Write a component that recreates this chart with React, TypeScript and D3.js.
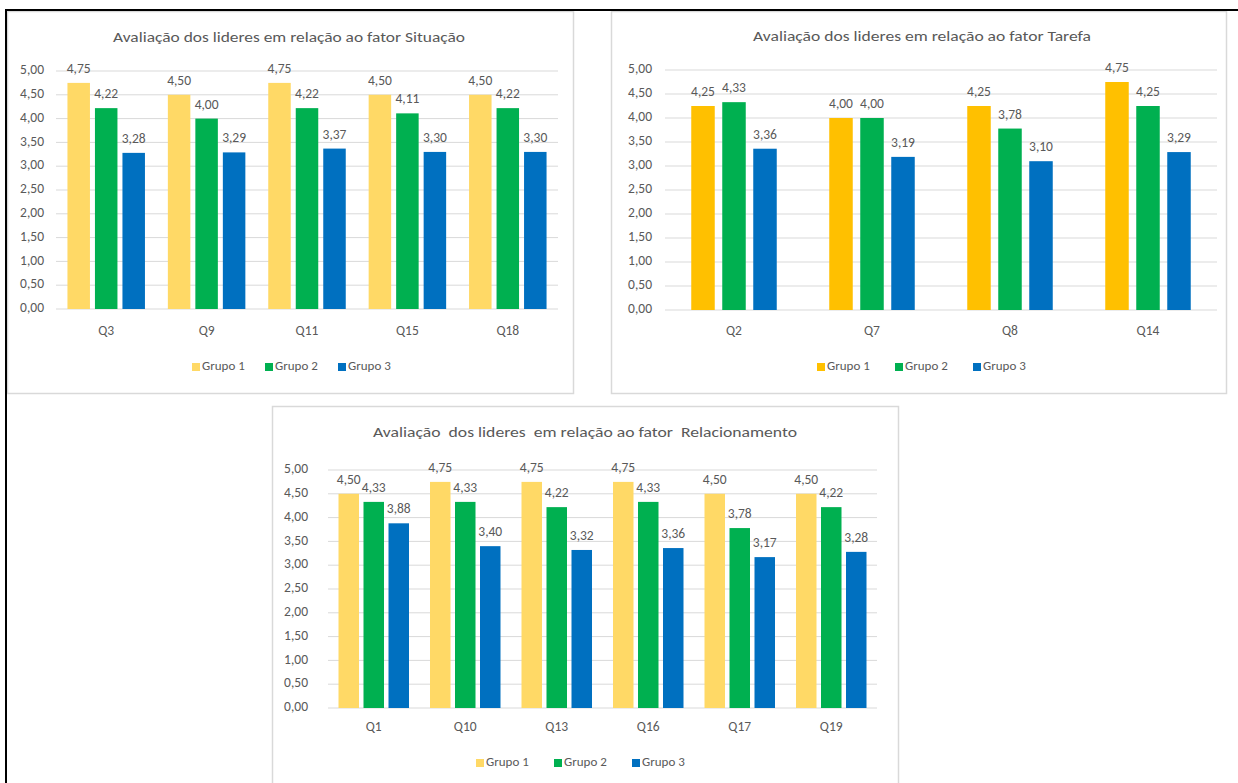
import React from "react";
import * as d3 from "d3";

const seriesNames = ["Grupo 1", "Grupo 2", "Grupo 3"];
const yTicks = [0, 0.5, 1, 1.5, 2, 2.5, 3, 3.5, 4, 4.5, 5];

// Chart 1 — Situação
const catSituacao = ["Q3", "Q9", "Q11", "Q15", "Q18"];
const situacaoG1 = [4.75, 4.5, 4.75, 4.5, 4.5];
const situacaoG2 = [4.22, 4.0, 4.22, 4.11, 4.22];
const situacaoG3 = [3.28, 3.29, 3.37, 3.3, 3.3];

// Chart 2 — Tarefa
const catTarefa = ["Q2", "Q7", "Q8", "Q14"];
const tarefaG1 = [4.25, 4.0, 4.25, 4.75];
const tarefaG2 = [4.33, 4.0, 3.78, 4.25];
const tarefaG3 = [3.36, 3.19, 3.1, 3.29];

// Chart 3 — Relacionamento
const catRelac = ["Q1", "Q10", "Q13", "Q16", "Q17", "Q19"];
const relacG1 = [4.5, 4.75, 4.75, 4.75, 4.5, 4.5];
const relacG2 = [4.33, 4.33, 4.22, 4.33, 3.78, 4.22];
const relacG3 = [3.88, 3.4, 3.32, 3.36, 3.17, 3.28];

const ptBR = d3.formatLocale({
  decimal: ",",
  thousands: ".",
  grouping: [3],
  currency: ["R$", ""],
});
const fmt = ptBR.format(".2f");

const FONT = "Carlito, Lato, 'Liberation Sans', sans-serif";
const TEXT = "#595959";
const GRID = "#D9D9D9";

type ChartProps = {
  box: { x: number; y: number; w: number; h: number };
  plot: { left: number; right: number; top: number; bottom: number };
  title: string;
  titleX: number;
  titleY: number;
  titleLen: number;
  categories: string[];
  values: number[][];
  colors: string[];
  barW: number;
  gap: number;
  tickX: number;
  xLabelY: number;
  legendX: number;
  legendStep: number;
  legendY: number;
};

function Chart(p: ChartProps) {
  const x = d3.scaleBand<string>().domain(p.categories).range([p.plot.left, p.plot.right]).padding(0);
  const y = d3.scaleLinear().domain([0, 5]).range([p.plot.bottom, p.plot.top]);
  const groupW = 3 * p.barW + 2 * p.gap;
  const sub = d3
    .scaleBand<string>()
    .domain(seriesNames)
    .range([0, groupW])
    .paddingInner(p.gap / (p.barW + p.gap))
    .paddingOuter(0);

  return (
    <g>
      <rect
        x={p.box.x + 0.5}
        y={p.box.y + 0.5}
        width={p.box.w}
        height={p.box.h}
        fill="#fff"
        stroke={GRID}
        strokeWidth={1.5}
      />
      <text
        x={p.titleX}
        y={p.titleY}
        textLength={p.titleLen}
        lengthAdjust="spacingAndGlyphs"
        fontFamily={FONT}
        fontSize={15}
        fill={TEXT}
        dominantBaseline="middle"
        style={{ whiteSpace: "pre" }}
      >
        {p.title}
      </text>
      {yTicks.map((t) => (
        <g key={t}>
          <line x1={p.plot.left} x2={p.plot.right} y1={y(t)} y2={y(t)} stroke={GRID} strokeWidth={1} />
          <text
            x={p.tickX}
            y={y(t)}
            textAnchor="end"
            dominantBaseline="middle"
            fontFamily={FONT}
            fontSize={13.5}
            fill={TEXT}
          >
            {fmt(t)}
          </text>
        </g>
      ))}
      {p.categories.map((c, ci) => {
        const cx = (x(c) as number) + x.bandwidth() / 2;
        const gx = cx - groupW / 2;
        return (
          <g key={c}>
            {seriesNames.map((s, si) => {
              const v = p.values[si][ci];
              const bx = gx + (sub(s) as number);
              return (
                <g key={s}>
                  <rect x={bx} y={y(v)} width={sub.bandwidth()} height={y(0) - y(v)} fill={p.colors[si]} />
                  <text
                    x={bx + sub.bandwidth() / 2}
                    y={y(v) - 10}
                    textAnchor="middle"
                    fontFamily={FONT}
                    fontSize={13.5}
                    fill={TEXT}
                  >
                    {fmt(v)}
                  </text>
                </g>
              );
            })}
            <text
              x={cx}
              y={p.xLabelY}
              textAnchor="middle"
              dominantBaseline="middle"
              fontFamily={FONT}
              fontSize={13.5}
              fill={TEXT}
            >
              {c}
            </text>
          </g>
        );
      })}
      {seriesNames.map((s, i) => {
        const lx = p.legendX + i * p.legendStep;
        return (
          <g key={s}>
            <rect x={lx} y={p.legendY - 4} width={8} height={8} fill={p.colors[i]} />
            <text
              x={lx + 10}
              y={p.legendY}
              dominantBaseline="middle"
              fontFamily={FONT}
              fontSize={13}
              fill={TEXT}
            >
              {s}
            </text>
          </g>
        );
      })}
    </g>
  );
}

export default function App() {
  const green = "#00B050";
  const blue = "#0070C0";
  return (
    <svg
      width={1238}
      height={783}
      style={{ position: "absolute", left: 0, top: 0, background: "#fff" }}
    >
      <rect x={0} y={0} width={1238} height={783} fill="#fff" />
      <Chart
        box={{ x: 7, y: 11, w: 566, h: 382 }}
        plot={{ left: 56, right: 558, top: 71, bottom: 309 }}
        title="Avaliação dos lideres em relação ao fator Situação"
        titleX={113}
        titleY={38}
        titleLen={352}
        categories={catSituacao}
        values={[situacaoG1, situacaoG2, situacaoG3]}
        colors={["#FFD966", green, blue]}
        barW={22.5}
        gap={5}
        tickX={44}
        xLabelY={332}
        legendX={192}
        legendStep={73}
        legendY={367}
      />
      <Chart
        box={{ x: 611, y: 11, w: 615, h: 382 }}
        plot={{ left: 665, right: 1217, top: 70, bottom: 310 }}
        title="Avaliação dos lideres em relação ao fator Tarefa"
        titleX={753}
        titleY={37}
        titleLen={338}
        categories={catTarefa}
        values={[tarefaG1, tarefaG2, tarefaG3]}
        colors={["#FFC000", green, blue]}
        barW={23.5}
        gap={7.5}
        tickX={652}
        xLabelY={332}
        legendX={817}
        legendStep={78}
        legendY={367}
      />
      <Chart
        box={{ x: 272, y: 406, w: 626, h: 390 }}
        plot={{ left: 328, right: 877, top: 470, bottom: 708 }}
        title="Avaliação  dos lideres  em relação ao fator  Relacionamento"
        titleX={373}
        titleY={433}
        titleLen={424}
        categories={catRelac}
        values={[relacG1, relacG2, relacG3]}
        colors={["#FFD966", green, blue]}
        barW={20.5}
        gap={4.5}
        tickX={308}
        xLabelY={728}
        legendX={476}
        legendStep={78}
        legendY={763}
      />
      <line x1={5} x2={1238} y1={10} y2={10} stroke="#000" strokeWidth={2} />
      <line x1={6} x2={6} y1={9} y2={783} stroke="#000" strokeWidth={2} />
    </svg>
  );
}
